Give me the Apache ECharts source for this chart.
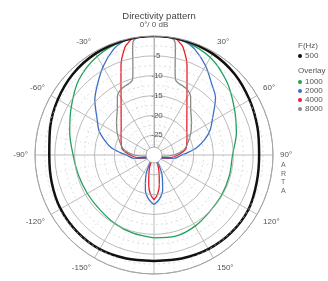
<!DOCTYPE html>
<html>
<head>
<meta charset="utf-8">
<script src="https://cdn.jsdelivr.net/npm/echarts@6/dist/echarts.min.js"></script>
<style>
  html, body { margin: 0; padding: 0; background: #fff; }
  #chart { width: 328px; height: 281px; }
</style>
</head>
<body>
<div id="chart"></div>
<script>
// angle axis runs 0..360 clockwise from the top, labels shown as -180..180
const angleMin = 0;
const angleMax = 360;
const dbTicks = [-30, -25, -20, -15, -10, -5, 0];

// 500 Hz
const ang500 = [-180, -165, -150, -135, -120, -105, -90, -75, -60, -45, -30, -15, 0, 15, 30, 45, 60, 75, 90, 105, 120, 135, 150, 165, 180];
const db500 = [-3.3, -3.0, -2.6, -2.6, -2.8, -3.3, -3.6, -2.9, -2.0, -1.1, -0.5, -0.1, 0, -0.1, -0.5, -1.2, -2.2, -3.0, -3.5, -3.2, -2.5, -2.4, -2.6, -3.0, -3.3];

// 1000 Hz
const ang1000 = [-180, -165, -150, -135, -120, -105, -90, -75, -60, -45, -30, -15, 0, 15, 30, 45, 60, 75, 90, 105, 120, 135, 150, 165, 180];
const db1000 = [-9.1, -9.6, -10.1, -10.6, -10.6, -10.3, -9.6, -8.0, -5.9, -3.2, -1.3, -0.3, 0, -0.4, -1.6, -4.0, -6.6, -8.5, -10.2, -10.3, -10.2, -10.0, -9.3, -8.8, -9.1];

// 2000 Hz
const ang2000 = [-180, -173, -166, -158, -150, -130, -115, -100, -90, -86, -80, -73, -66, -58, -47, -39, -30, -21, -15, -10, 0, 10, 15, 21, 30, 39, 47, 58, 66, 73, 80, 86, 90, 100, 115, 130, 150, 158, 166, 173, 180];
const db2000 = [-17.5, -18.8, -21, -24.6, -29, -30, -28, -25, -23, -21.5, -19, -16.9, -14.8, -13.1, -9.6, -7.3, -4.3, -1.5, -0.3, -0.1, 0, -0.1, -0.3, -1.4, -4.0, -6.9, -8.8, -12.6, -14.5, -16.6, -19, -21.5, -23, -25, -28, -30, -29, -24.6, -21, -18.8, -17.5];

// 4000 Hz
const ang4000 = [-180, -175, -170, -165, -160, -150, -120, -110, -100, -90, -80, -70, -60, -50, -40, -30, -25, -20, -15, -13, -10, 0, 10, 13, 15, 20, 25, 30, 40, 50, 60, 70, 80, 90, 100, 110, 120, 150, 160, 165, 170, 175, 180];
const db4000 = [-18.7, -20, -22.3, -25, -27, -30, -30, -28, -26, -24, -21.9, -21.2, -20.4, -19.2, -17.1, -13.4, -10.3, -5.7, -1.8, -1.0, 0, 0, 0, -1.0, -1.8, -5.7, -10.3, -13.4, -17.1, -19.2, -20.4, -21.2, -21.9, -24, -26, -28, -30, -30, -27, -25, -22.3, -20, -18.7];

// 8000 Hz
const ang8000 = [-180, -110, -100, -90, -80, -70, -56, -47, -39, -32, -27, -22, -19, -16, -14, -12.5, -11.5, -10.5, -9, -6, 0, 6, 9, 10.5, 11.5, 12.5, 14, 16, 19, 22, 27, 32, 39, 47, 56, 70, 80, 90, 100, 110, 180];
const db8000 = [-30, -30, -28, -25, -22.3, -20.9, -18.7, -17.1, -15.3, -12.6, -11.5, -11.1, -10.9, -10.3, -8.0, -5.3, -3.0, -1.0, -0.3, 0, 0, 0, -0.3, -1.0, -3.0, -5.3, -8.0, -10.3, -10.9, -11.1, -11.5, -12.6, -15.3, -17.1, -18.7, -20.9, -22.3, -25, -28, -30, -30];

function pairs(angs, dbs) {
  return angs.map((a, i) => [dbs[i], a]);
}

function curve(name, angs, dbs, color, width) {
  return {
    name: name,
    type: "line",
    coordinateSystem: "polar",
    smooth: 0.3,
    symbol: "none",
    lineStyle: { color: color, width: width },
    itemStyle: { color: color },
    data: pairs(angs, dbs),
  };
}

const font = "Liberation Sans";
const cx = 154, cy = 155;

let option = {
  animation: false,
  title: [
    {
      text: "Directivity pattern",
      left: 154, top: 6, textAlign: "center",
      textStyle: { fontSize: 9.5, fontWeight: "normal", color: "#444", fontFamily: font },
    },
    {
      text: "F(Hz)", left: 293, top: 37,
      textStyle: { fontSize: 8, fontWeight: "normal", color: "#555", fontFamily: font },
    },
    {
      text: "Overlay", left: 293, top: 62,
      textStyle: { fontSize: 8, fontWeight: "normal", color: "#555", fontFamily: font },
    },
  ],
  legend: [
    {
      data: ["500"], left: 293, top: 47, orient: "vertical",
      icon: "circle", itemWidth: 4, itemHeight: 4, itemGap: 1,
      textStyle: { fontSize: 8, color: "#555", fontFamily: font, padding: [0, 0, 0, -2] },
    },
    {
      data: ["1000", "2000", "4000", "8000"], left: 293, top: 73, orient: "vertical",
      icon: "circle", itemWidth: 4, itemHeight: 4, itemGap: 1,
      textStyle: { fontSize: 8, color: "#555", fontFamily: font, padding: [0, 0, 0, -2] },
    },
  ],
  polar: { center: [cx, cy], radius: 119 },
  angleAxis: {
    type: "value",
    min: angleMin,
    max: angleMax,
    interval: 30,
    startAngle: 90,
    clockwise: true,
    axisLine: { lineStyle: { color: "#999", width: 1 } },
    axisTick: { show: false },
    axisLabel: {
      margin: 7,
      fontSize: 8,
      color: "#555",
      fontFamily: font,
      formatter: (v) => {
        if (v === 0 || v === 360) return "0°/ 0 dB";
        return (v > 180 ? v - 360 : v) + "°";
      },
    },
    splitLine: { lineStyle: { color: "#aaa", width: 0.8 } },
    minorTick: { show: false, splitNumber: 3 },
    minorSplitLine: { show: true, lineStyle: { color: "#ccc", width: 0.7, type: [1, 3] } },
  },
  radiusAxis: {
    type: "value",
    min: dbTicks[0],
    max: dbTicks[dbTicks.length - 1],
    interval: 5,
    axisLine: { show: true, lineStyle: { color: "#aaa", width: 0.8 } },
    axisTick: { show: false },
    axisLabel: {
      margin: -3,
      fontSize: 8,
      color: "#555",
      fontFamily: font,
      align: "center",
      formatter: (v) => (v === 0 || v === -30 ? "" : String(v)),
    },
    splitLine: { lineStyle: { color: "#aaa", width: 0.8 } },
    minorTick: { show: false, splitNumber: 2 },
    minorSplitLine: { show: true, lineStyle: { color: "#ccc", width: 0.7, type: [2, 3] } },
    z: 20,
  },
  graphic: [
    {
      type: "circle", z: 100,
      shape: { cx: cx, cy: cy, r: 8 },
      style: { fill: "#fff", stroke: "#999", lineWidth: 0.8 },
    },
    {
      type: "text", z: 100, left: 281, top: 161,
      style: { text: "A\nR\nT\nA", fontSize: 7, lineHeight: 8.5, fill: "#666", fontFamily: font },
    },
  ],
  series: [
    curve("1000", ang1000, db1000, "#22a05a", 1.3),
    curve("2000", ang2000, db2000, "#3c6fc8", 1.3),
    curve("4000", ang4000, db4000, "#e8202a", 1.3),
    curve("8000", ang8000, db8000, "#888888", 1.3),
    curve("500", ang500, db500, "#111111", 2.5),
  ],
};

let myChart = echarts.init(document.getElementById("chart"));
myChart.setOption(option);
</script>
</body>
</html>
